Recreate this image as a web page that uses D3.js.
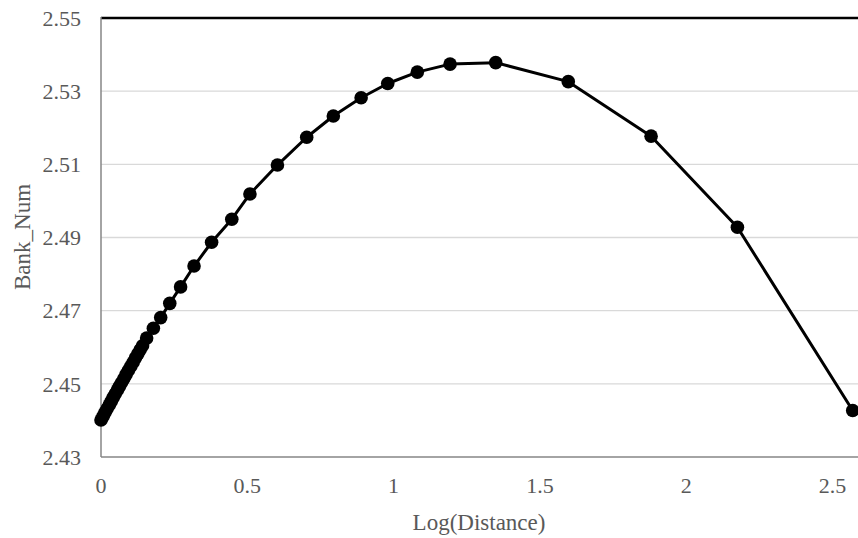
<!DOCTYPE html>
<html>
<head>
<meta charset="utf-8">
<script src="https://cdn.jsdelivr.net/npm/d3@7"></script>
<style>
  html, body { margin: 0; padding: 0; background: #fff; }
  svg { display: block; }
  text { font-family: "Liberation Serif", "Times New Roman", serif; fill: #595959; }
</style>
</head>
<body>
<svg id="chart" width="858" height="538"></svg>
<script>
// Data
const logDistance = [
  0.000, 0.007, 0.014, 0.021, 0.028, 0.035, 0.042, 0.049, 0.056, 0.063,
  0.070, 0.078, 0.086, 0.094, 0.102, 0.110, 0.118, 0.126, 0.134, 0.142,
  0.156, 0.179, 0.204, 0.235, 0.272, 0.318, 0.378, 0.447, 0.509, 0.603,
  0.703, 0.794, 0.889, 0.980, 1.081, 1.193, 1.349, 1.597, 1.880, 2.175, 2.569
];
const bankNum = [
  2.4401, 2.4411, 2.4422, 2.4432, 2.4442, 2.4452, 2.4463, 2.4473, 2.4483, 2.4493,
  2.4503, 2.4514, 2.4526, 2.4537, 2.4548, 2.4559, 2.4571, 2.4582, 2.4593, 2.4604,
  2.4625, 2.4652, 2.4681, 2.4720, 2.4765, 2.4822, 2.4887, 2.4950, 2.5019, 2.5098,
  2.5174, 2.5232, 2.5282, 2.5321, 2.5352, 2.5374, 2.5378, 2.5326, 2.5177, 2.4928, 2.4427
];
const xTicks = [0, 0.5, 1, 1.5, 2, 2.5];
const xTickLabels = ["0", "0.5", "1", "1.5", "2", "2.5"];
const yTicks = [2.43, 2.45, 2.47, 2.49, 2.51, 2.53, 2.55];
const yTickLabels = ["2.43", "2.45", "2.47", "2.49", "2.51", "2.53", "2.55"];
const xTitle = "Log(Distance)";
const yTitle = "Bank_Num";

(function () {
const data = logDistance.map((x, i) => ({ x, y: bankNum[i] }));

const svg = d3.select("#chart");
const mLeft = 101, mTop = 18, mBottom = 457;
const unit = 292.6;
const x = d3.scaleLinear().domain([0, 3]).range([mLeft, mLeft + 3 * unit]);
const y = d3.scaleLinear().domain([2.43, 2.55]).range([mBottom, mTop]);
const rightEdge = 858;

// gridlines
svg.append("g").selectAll("line")
  .data(yTicks.filter(t => t > 2.43 && t < 2.55))
  .join("line")
  .attr("x1", mLeft).attr("x2", rightEdge)
  .attr("y1", d => y(d)).attr("y2", d => y(d))
  .attr("stroke", "#d9d9d9").attr("stroke-width", 1.3);

// top border line
svg.append("line")
  .attr("x1", mLeft).attr("x2", rightEdge)
  .attr("y1", y(2.55)).attr("y2", y(2.55))
  .attr("stroke", "#000").attr("stroke-width", 2.5);

// axes lines
svg.append("line")
  .attr("x1", mLeft).attr("x2", mLeft)
  .attr("y1", y(2.55) - 1).attr("y2", mBottom)
  .attr("stroke", "#868686").attr("stroke-width", 1.5);
svg.append("line")
  .attr("x1", mLeft).attr("x2", rightEdge)
  .attr("y1", mBottom).attr("y2", mBottom)
  .attr("stroke", "#868686").attr("stroke-width", 1.5);

// tick labels
svg.append("g").selectAll("text")
  .data(yTicks)
  .join("text")
  .attr("x", 81).attr("y", d => y(d))
  .attr("dy", "0.35em")
  .attr("text-anchor", "end")
  .attr("font-size", 22)
  .text((d, i) => yTickLabels[i]);

svg.append("g").selectAll("text")
  .data(xTicks)
  .join("text")
  .attr("x", d => x(d)).attr("y", 485)
  .attr("dy", "0.35em")
  .attr("text-anchor", "middle")
  .attr("font-size", 22)
  .text((d, i) => xTickLabels[i]);

// axis titles
svg.append("text")
  .attr("x", 479).attr("y", 522)
  .attr("dy", "0.35em")
  .attr("text-anchor", "middle")
  .attr("font-size", 23)
  .text(xTitle);

svg.append("text")
  .attr("transform", "translate(22,237) rotate(-90)")
  .attr("dy", "0.35em")
  .attr("text-anchor", "middle")
  .attr("font-size", 23)
  .text(yTitle);

// line
const line = d3.line().x(d => x(d.x)).y(d => y(d.y));
svg.append("path")
  .datum(data)
  .attr("d", line)
  .attr("fill", "none")
  .attr("stroke", "#000")
  .attr("stroke-width", 3)
  .attr("stroke-linejoin", "round");

// markers
svg.append("g").selectAll("circle")
  .data(data)
  .join("circle")
  .attr("cx", d => x(d.x))
  .attr("cy", d => y(d.y))
  .attr("r", 6.8)
  .attr("fill", "#000");
})();
</script>
</body>
</html>
